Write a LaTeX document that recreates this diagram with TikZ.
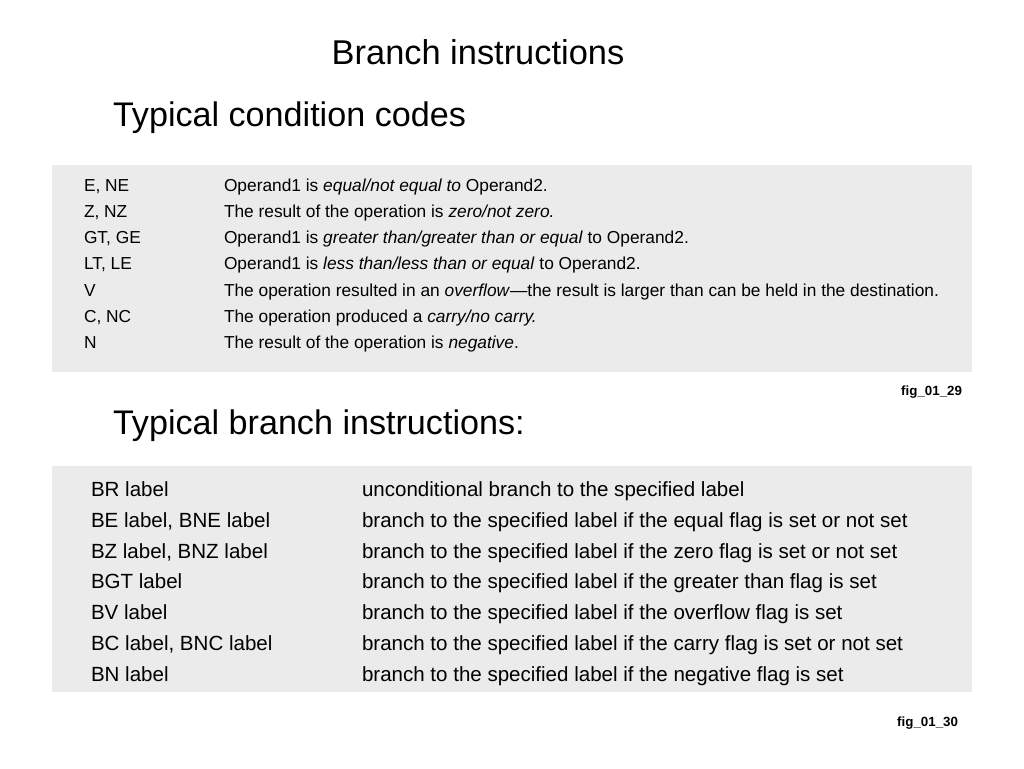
\documentclass[tikz,border=0pt]{standalone}
\usepackage{fontspec}
\setmainfont{Liberation Sans}
\begin{document}
\begin{tikzpicture}[x=0.75pt,y=-0.75pt,
  every node/.style={inner sep=0pt,outer sep=0pt},
  heading/.style={anchor=base west,font=\fontsize{25.6}{30}\selectfont},
  title/.style={anchor=base,font=\fontsize{25.8}{30}\selectfont},
  codecell/.style={anchor=base west,font=\fontsize{13}{16}\selectfont},
  brcell/.style={anchor=base west,font=\fontsize{15.4}{18}\selectfont},
  figlabel/.style={anchor=base east,font=\bfseries\fontsize{10}{12}\selectfont},
  panel/.style={fill=black!8,draw=none}]
\useasboundingbox[fill=white] (0,0) rectangle (1024,768);
\node[title] (t) at (478,64) {Branch instructions};
\node[heading] (h1) at (113,126) {Typical condition codes};
\fill[panel] (52,165) rectangle (972,372);
\node[codecell] (c1a) at (84,191) {E, NE};
\node[codecell] (c1b) at (224,191) {Operand1 is \textit{equal/not equal to} Operand2.};
\node[codecell] (c2a) at (84,217) {Z, NZ};
\node[codecell] (c2b) at (224,217) {The result of the operation is \textit{zero/not zero.}};
\node[codecell] (c3a) at (84,243) {GT, GE};
\node[codecell] (c3b) at (224,243) {Operand1 is \textit{greater than/greater than or equal} to Operand2.};
\node[codecell] (c4a) at (84,269) {LT, LE};
\node[codecell] (c4b) at (224,269) {Operand1 is \textit{less than/less than or equal} to Operand2.};
\node[codecell] (c5a) at (84,296) {V};
\node[codecell] (c5b) at (224,296) {The operation resulted in an \textit{overflow}---the result is larger than can be held in the destination.};
\node[codecell] (c6a) at (84,322) {C, NC};
\node[codecell] (c6b) at (224,322) {The operation produced a \textit{carry/no carry.}};
\node[codecell] (c7a) at (84,348) {N};
\node[codecell] (c7b) at (224,348) {The result of the operation is \textit{negative}.};
\node[figlabel] (f1) at (962,395) {fig\_01\_29};
\node[heading] (h2) at (113,434) {Typical branch instructions:};
\fill[panel] (52,466) rectangle (972,692);
\node[brcell] (b1a) at (91,496) {BR label};
\node[brcell] (b1b) at (362,496) {unconditional branch to the specified label};
\node[brcell] (b2a) at (91,527) {BE label, BNE label};
\node[brcell] (b2b) at (362,527) {branch to the specified label if the equal flag is set or not set};
\node[brcell] (b3a) at (91,558) {BZ label, BNZ label};
\node[brcell] (b3b) at (362,558) {branch to the specified label if the zero flag is set or not set};
\node[brcell] (b4a) at (91,588) {BGT label};
\node[brcell] (b4b) at (362,588) {branch to the specified label if the greater than flag is set};
\node[brcell] (b5a) at (91,619) {BV label};
\node[brcell] (b5b) at (362,619) {branch to the specified label if the overflow flag is set};
\node[brcell] (b6a) at (91,650) {BC label, BNC label};
\node[brcell] (b6b) at (362,650) {branch to the specified label if the carry flag is set or not set};
\node[brcell] (b7a) at (91,681) {BN label};
\node[brcell] (b7b) at (362,681) {branch to the specified label if the negative flag is set};
\node[figlabel] (f2) at (958,726) {fig\_01\_30};
\end{tikzpicture}
\end{document}
